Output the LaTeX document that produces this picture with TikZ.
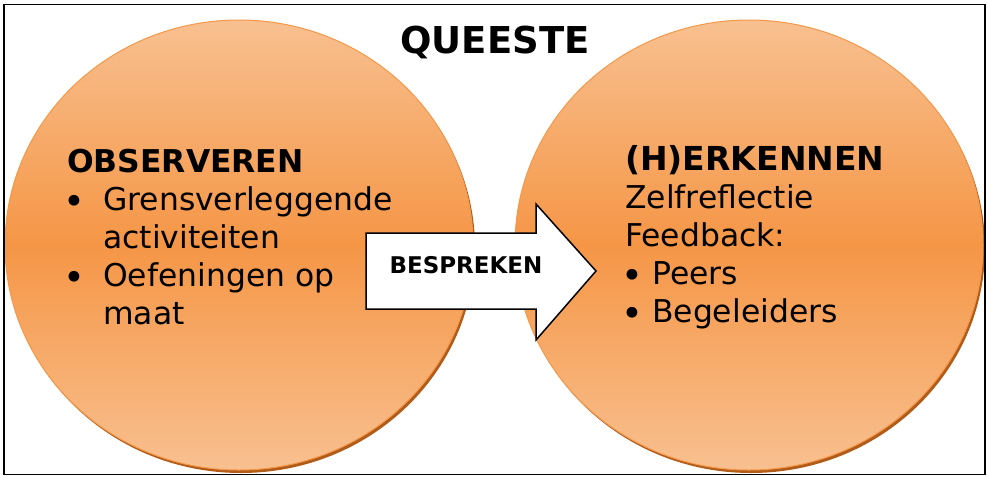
\documentclass[tikz,border=0pt]{standalone}
\usepackage{fontspec}
\setmainfont{DejaVu Sans}
\usetikzlibrary{shapes.geometric}
\definecolor{orlight}{RGB}{248,192,144}
\definecolor{ormid}{RGB}{245,150,70}
\definecolor{orborder}{RGB}{244,152,74}
\definecolor{orshadow}{RGB}{178,92,26}
\newcommand{\mybul}{\makebox[0pt][l]{\hspace{-4pt}\raisebox{-4pt}{\fontsize{37}{38}\selectfont\textbullet}}}
\begin{document}
\begin{tikzpicture}[x=1pt,y=-1pt,
  bubble/.style={ellipse, minimum width=468pt, minimum height=450pt, draw=orborder, line width=1pt,
    top color=orlight, bottom color=orlight, middle color=ormid, inner sep=0pt},
  shadowbubble/.style={ellipse, minimum width=468pt, minimum height=450pt, fill=orshadow, inner sep=0pt},
  bodytext/.style={inner sep=0pt, anchor=base west, font=\fontsize{31.4}{38}\selectfont},
  blockarrow/.style={draw=black, line width=1.5pt, fill=white, line join=miter},
]
\useasboundingbox (0,0) rectangle (989,477);
% circles
\node[shadowbubble] (lshadow) at (241,248) {};
\node[bubble] (lcirc) at (239,245) {};
\node[shadowbubble] (rshadow) at (751,248) {};
\node[bubble] (rcirc) at (749,245) {};
% frame
\node[draw=black, line width=1.5pt, minimum width=981pt, minimum height=470pt, inner sep=0pt] (frame) at (494.5,239.5) {};
% title
\node[inner sep=0pt, anchor=base, font=\bfseries\fontsize{37}{40}\selectfont] (title) at (495,53) {QUEESTE};
% arrow
\draw[blockarrow] (366,233) -- (536,233) -- (536,204) -- (596,271) -- (536,340) -- (536,309) -- (366,309) -- cycle;
\node[inner sep=0pt, anchor=base, font=\bfseries\fontsize{23}{24}\selectfont] (bespreken) at (466,273) {BESPREKEN};
% left text
\node[bodytext] (obs) at (67,172) {\begin{tabular}[t]{@{}p{36pt}@{}l@{}}
\multicolumn{2}{@{}l@{}}{\bfseries OBSERVEREN}\\
\mybul & Grensverleggende\\
 & activiteiten\\
\mybul & Oefeningen op\\
 & maat
\end{tabular}};
% right text
\node[bodytext] (herk) at (625,170) {\begin{tabular}[t]{@{}p{27pt}@{}l@{}}
\multicolumn{2}{@{}l@{}}{\bfseries\fontsize{33}{38}\selectfont (H)ERKENNEN}\\
\multicolumn{2}{@{}l@{}}{Zelfreflectie}\\
\multicolumn{2}{@{}l@{}}{Feedback:}\\
\mybul & Peers\\
\mybul & Begeleiders
\end{tabular}};
\end{tikzpicture}
\end{document}
